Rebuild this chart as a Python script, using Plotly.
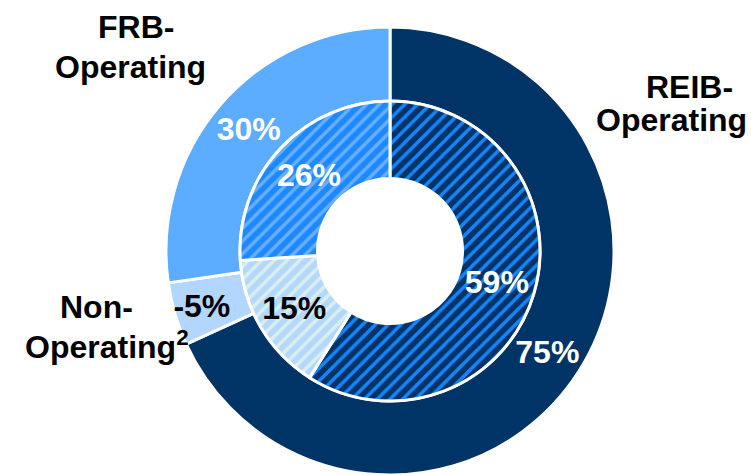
import plotly.graph_objects as go

# ---- data ----
categories = ["REIB-Operating", "Non-Operating", "FRB-Operating"]
outer_values = [75, -5, 30]   # outer ring (%)
inner_values = [59, 15, 26]   # inner ring (%)

# ---- styles ----
outer_colors = ["#003366", "#B3D6FF", "#5CACFF"]
inner_bg = ["#003366", "#B5D8FA", "#1E88FF"]
inner_fg = ["#1685FF", "#D8EFF2", "#66B0FF"]
outer_text_colors = ["white", "black", "white"]
inner_text_colors = ["white", "black", "white"]
FONT = "Liberation Sans, Arial, sans-serif"
FS = 32

W, H = 751, 475
cx, cy = 390, 251          # pixel center (from top)
R_out, R_mid, R_in = 224, 150, 72.5


def dom(r):
    return dict(x=[(cx - r) / W, (cx + r) / W],
                y=[(H - cy - r) / H, (H - cy + r) / H])


fig = go.Figure()
fig.add_trace(go.Pie(
    labels=categories,
    values=[abs(v) for v in outer_values],
    text=[f"{v}%" for v in outer_values],
    textinfo="text",
    textposition="inside",
    insidetextorientation="horizontal",
    textfont=dict(family=FONT, size=FS, color=outer_text_colors, weight="bold"),
    marker=dict(colors=outer_colors, line=dict(color="white", width=3)),
    hole=R_mid / R_out,
    sort=False,
    direction="clockwise",
    rotation=0,
    domain=dom(R_out),
    hoverinfo="skip",
    showlegend=False,
))
fig.add_trace(go.Pie(
    labels=categories,
    values=inner_values,
    text=[f"{v}%" for v in inner_values],
    textinfo="text",
    textposition="inside",
    insidetextorientation="horizontal",
    textfont=dict(family=FONT, size=FS, color=inner_text_colors, weight="bold"),
    marker=dict(colors=inner_bg, line=dict(color="white", width=3),
                pattern=dict(shape="/", fillmode="replace", bgcolor=inner_bg,
                             fgcolor=inner_fg, size=9, solidity=0.38)),
    hole=R_in / R_mid,
    sort=False,
    direction="clockwise",
    rotation=0,
    domain=dom(R_mid),
    hoverinfo="skip",
    showlegend=False,
))

lab = dict(font=dict(family=FONT, size=FS, color="black", weight="bold"),
           showarrow=False, xref="paper", yref="paper",
           xanchor="center", yanchor="middle")


def ann(text, x, y):
    fig.add_annotation(text=text, x=x / W, y=1 - y / H, **lab)


ann("FRB-", 136, 27)
ann("Operating", 130, 67)
ann("REIB-", 689, 87)
ann("Operating", 671, 120)
ann("Non-", 96, 307)
ann("Operating<sup>2</sup>", 107, 345)

fig.update_layout(
    width=W, height=H,
    margin=dict(l=0, r=0, t=0, b=0),
    paper_bgcolor="white", plot_bgcolor="white",
    uniformtext=dict(minsize=FS, mode="show"),
)
fig.write_html("out.html",
               config={"displayModeBar": False},
               post_script="document.body.style.margin='0';document.body.style.overflow='hidden';")
